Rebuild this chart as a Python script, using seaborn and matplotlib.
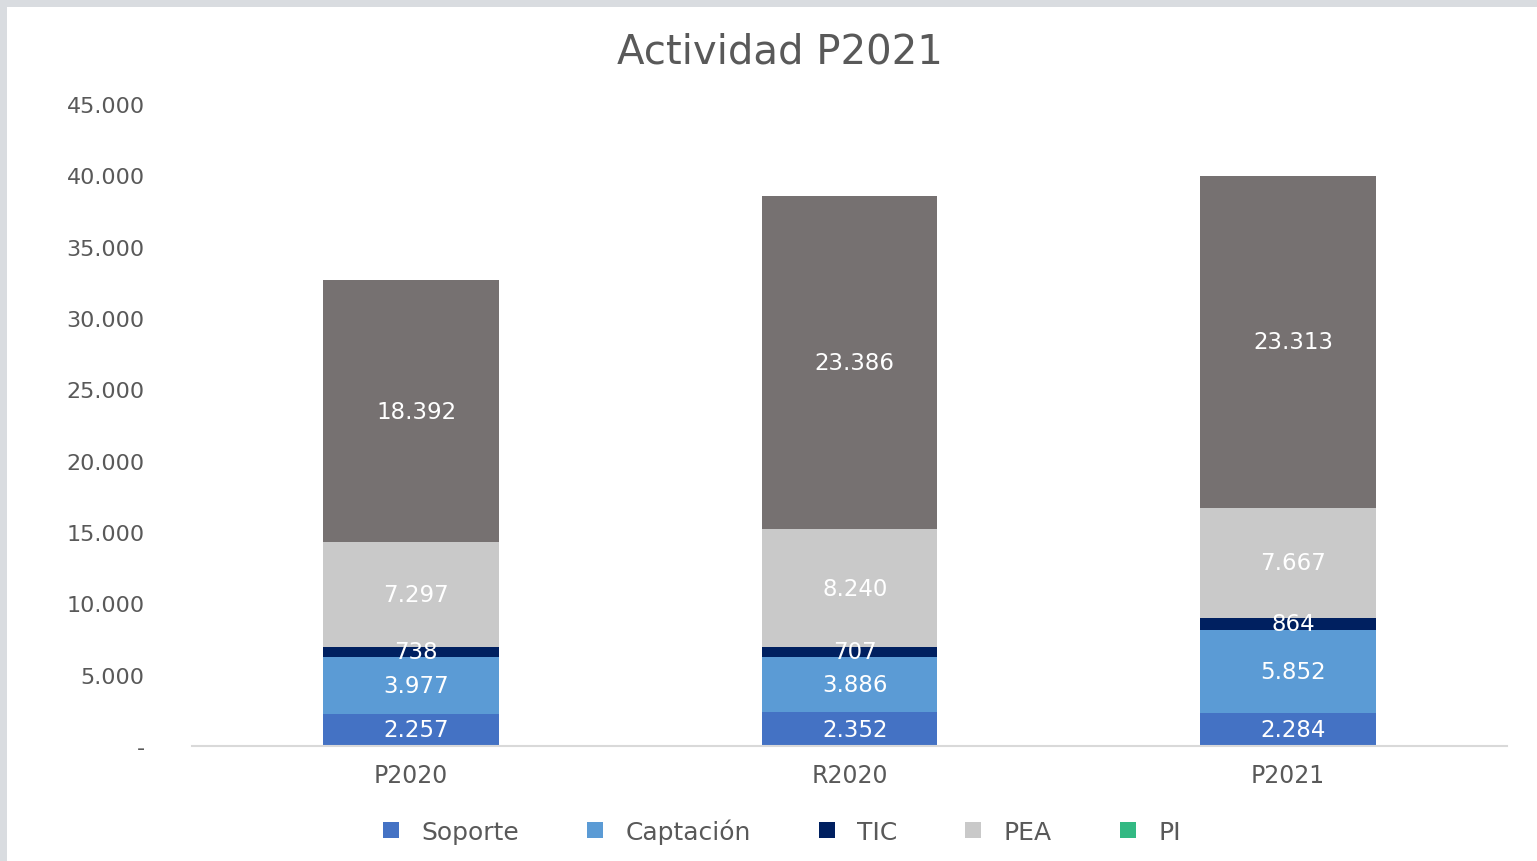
import numpy as np
import pandas as pd
import matplotlib
matplotlib.use("Agg")
import matplotlib.pyplot as plt
from matplotlib.patches import Patch, Rectangle
from matplotlib.ticker import FuncFormatter
import seaborn as sns

# Datos
categorias = ["P2020", "R2020", "P2021"]
soporte = [2257, 2352, 2284]
captacion = [3977, 3886, 5852]
tic = [738, 707, 864]
pea = [7297, 8240, 7667]
pi = [0, 0, 0]
otros = [18392, 23386, 23313]

series = ["Soporte", "Captación", "TIC", "PEA", "PI", "Otros"]
valores = [soporte, captacion, tic, pea, pi, otros]
colores = ["#4472C4", "#5B9BD5", "#002060", "#C9C9C9", "#33B983", "#767171"]
en_leyenda = [True, True, True, True, True, False]

sns.set_theme(style="white")
plt.rcParams["font.family"] = ["DejaVu Sans"]

fig = plt.figure(figsize=(15.37, 8.62), dpi=100)
fig.patch.set_facecolor("#D9DCE0")
fig.patches.append(Rectangle((7 / 1537, 0), 1, 1 - 8 / 862, transform=fig.transFigure,
                             facecolor="white", edgecolor="none", zorder=-10))
ax = fig.add_axes([192 / 1537, 1 - 747 / 862, (1507 - 192) / 1537, (747 - 105) / 862])
ax.set_facecolor("white")

# Tabla con acumulados
df = pd.DataFrame({s: v for s, v in zip(series, valores)}, index=categorias)
acum = df.cumsum(axis=1)

# Barras apiladas: se dibuja el acumulado de arriba hacia abajo
for s, c in reversed(list(zip(series, colores))):
    datos = pd.DataFrame({"categoria": categorias, "valor": acum[s].values})
    sns.barplot(data=datos, x="categoria", y="valor", color=c, width=0.4,
                saturation=1, ax=ax, edgecolor="none", linewidth=0)

# Etiquetas de datos
fmt = lambda v: f"{int(v):,}".replace(",", ".")
for s in series:
    for i, cat in enumerate(categorias):
        v = df.loc[cat, s]
        if v <= 0:
            continue
        centro = acum.loc[cat, s] - v / 2
        ax.text(i + 0.012, centro, fmt(v), ha="center", va="center",
                color="white", fontsize=16.5)

ax.set_xlim(-0.5, 2.5)
ax.set_ylim(0, 45000)
ax.set_yticks(np.arange(0, 45001, 5000))
ax.yaxis.set_major_formatter(FuncFormatter(lambda v, p: "-" if v == 0 else fmt(v)))
ax.set_xlabel("")
ax.set_ylabel("")
ax.tick_params(axis="both", length=0, colors="#595959")
ax.tick_params(axis="y", labelsize=16, pad=34)
ax.tick_params(axis="x", labelsize=17, pad=12)
for lado in ["top", "right", "left"]:
    ax.spines[lado].set_visible(False)
ax.spines["bottom"].set_color("#D9D9D9")
ax.spines["bottom"].set_linewidth(1.5)

fig.text(780 / 1537, 1 - 52 / 862, "Actividad P2021", ha="center", va="center",
         fontsize=29, color="#595959")

handles = [Patch(facecolor=c, edgecolor="none", label=s)
           for s, c, l in zip(series, colores, en_leyenda) if l]
fig.legend(handles=handles, loc="center", bbox_to_anchor=(782 / 1537, 1 - 832 / 862),
           ncol=5, frameon=False, fontsize=18, labelcolor="#595959",
           handlelength=0.65, handleheight=0.65, columnspacing=2.7, handletextpad=0.9)

fig.savefig("out.png", dpi=100)
